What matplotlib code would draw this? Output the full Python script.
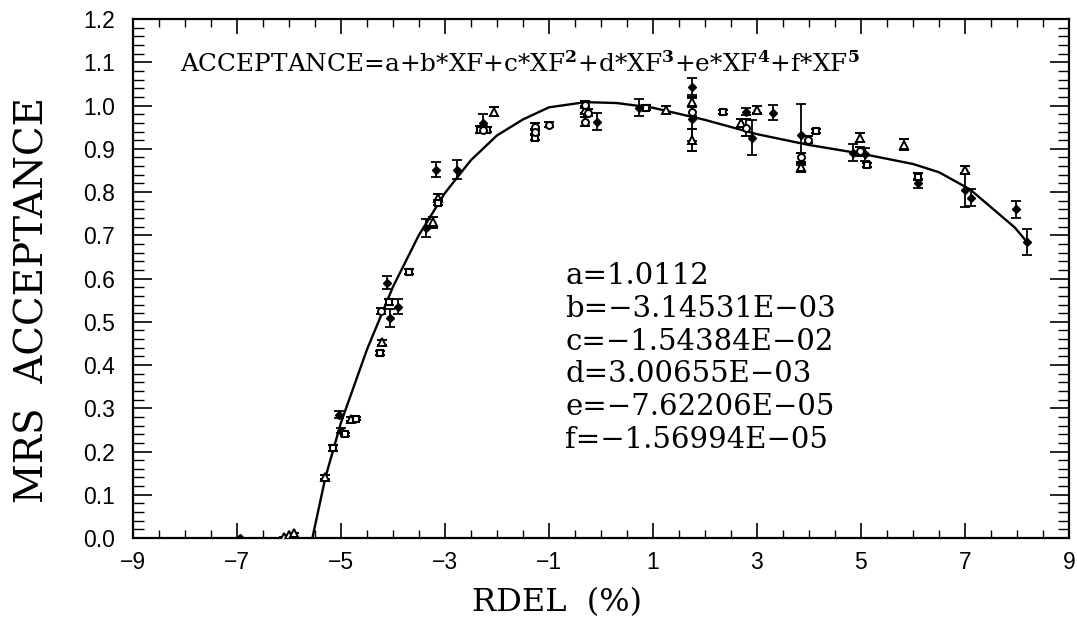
import matplotlib
matplotlib.use("Agg")
import matplotlib.pyplot as plt
from matplotlib.ticker import MultipleLocator, FixedLocator

plt.rcParams['mathtext.fontset'] = 'dejavuserif'

# ---- data ----
# filled diamonds (x, y, error)
dia_x = [-6.94, -5.04, -5.00, -4.12, -4.06, -3.90, -3.37, -3.17, -2.77, -2.27,
         -0.08, 0.73, 1.75, 1.75, 2.79, 2.90, 3.31, 3.85, 4.85, 5.08,
         6.10, 7.00, 7.12, 7.98, 8.19]
dia_y = [0.000, 0.285, 0.248, 0.590, 0.509, 0.535, 0.717, 0.852, 0.852, 0.960,
         0.963, 0.995, 1.044, 0.968, 0.986, 0.926, 0.984, 0.933, 0.891, 0.887,
         0.820, 0.805, 0.787, 0.760, 0.685]
dia_e = [0.000, 0.008, 0.006, 0.015, 0.020, 0.018, 0.020, 0.018, 0.022, 0.020,
         0.020, 0.020, 0.020, 0.050, 0.008, 0.040, 0.018, 0.070, 0.020, 0.015,
         0.010, 0.040, 0.020, 0.020, 0.030]

# open triangles
tri_x = [-6.10, -6.00, -5.90, -5.31, -4.80, -4.21, -3.23, -3.13, -2.06, -0.31,
         1.25, 1.75, 1.75, 2.70, 3.00, 3.85, 4.98, 5.83, 7.00]
tri_y = [0.003, 0.008, 0.012, 0.141, 0.275, 0.453, 0.730, 0.787, 0.986, 0.990,
         0.990, 1.009, 0.921, 0.960, 0.990, 0.857, 0.926, 0.910, 0.852]
tri_e = [0.000, 0.000, 0.000, 0.004, 0.005, 0.006, 0.012, 0.008, 0.010, 0.008,
         0.010, 0.010, 0.025, 0.010, 0.008, 0.010, 0.010, 0.012, 0.008]

# open squares
sq_x = [-5.15, -4.92, -4.72, -4.25, -4.08, -3.69, -3.13, -2.33, -2.19, -1.27,
        0.87, 2.35, 4.13, 5.12, 6.10]
sq_y = [0.208, 0.240, 0.276, 0.428, 0.546, 0.616, 0.775, 0.944, 0.944, 0.926,
        0.995, 0.986, 0.942, 0.863, 0.836]
sq_e = [0.006, 0.004, 0.004, 0.005, 0.006, 0.005, 0.006, 0.008, 0.006, 0.006,
        0.006, 0.005, 0.005, 0.004, 0.008]

# open circles
ci_x = [-4.23, -1.27, -1.27, -1.00, -0.30, -0.31, -0.25, -2.27, 1.75, 2.79,
        3.85, 3.98, 4.98]
ci_y = [0.525, 0.951, 0.940, 0.956, 1.002, 0.963, 0.984, 0.944, 0.986, 0.949,
        0.880, 0.921, 0.894]
ci_e = [0.006, 0.008, 0.006, 0.006, 0.008, 0.010, 0.008, 0.008, 0.010, 0.020,
        0.010, 0.008, 0.010]

# fitted curve (polyline as drawn)
fit_x = [-5.55, -5.3, -5.0, -4.5, -4.0, -3.5, -3.0, -2.5, -2.0, -1.5, -1.0,
         -0.3, 0.3, 1.0, 2.0, 3.0, 4.0, 5.0, 6.0, 6.5, 7.1, 7.96, 8.19]
fit_y = [0.000, 0.140, 0.267, 0.436, 0.581, 0.701, 0.798, 0.874, 0.931, 0.968,
         0.996, 1.008, 1.006, 0.995, 0.967, 0.934, 0.909, 0.889, 0.865, 0.846,
         0.806, 0.718, 0.685]

xticks = [-9, -7, -5, -3, -1, 1, 3, 5, 7, 9]
yticks = [0.0, 0.1, 0.2, 0.3, 0.4, 0.5, 0.6, 0.7, 0.8, 0.9, 1.0, 1.1, 1.2]

formula = (r"ACCEPTANCE=a+b*XF+c*XF$^{\mathbf{2}}$+d*XF$^{\mathbf{3}}$"
           r"+e*XF$^{\mathbf{4}}$+f*XF$^{\mathbf{5}}$")
coeff_lines = ["a=1.0112", "b=\u22123.14531E\u221203", "c=\u22121.54384E\u221202",
               "d=3.00655E\u221203", "e=\u22127.62206E\u221205", "f=\u22121.56994E\u221205"]

# ---- figure ----
fig = plt.figure(figsize=(10.77, 6.17), dpi=100)
ax = fig.add_axes([0.1235, 0.128, 0.869, 0.841])

ax.plot(fit_x, fit_y, color='black', lw=1.7, zorder=3)

ebkw = dict(ecolor='black', elinewidth=1.3, capsize=3.8, capthick=1.3, linestyle='none', zorder=4)
ax.errorbar(dia_x, dia_y, yerr=dia_e, fmt='D', ms=4.5, mfc='black', mec='black', **ebkw)
ax.errorbar(tri_x, tri_y, yerr=tri_e, fmt='^', ms=5.5, mfc='white', mec='black', mew=1.4, **ebkw)
ax.errorbar(sq_x, sq_y, yerr=sq_e, fmt='s', ms=5, mfc='white', mec='black', mew=1.5, **ebkw)
ax.errorbar(ci_x, ci_y, yerr=ci_e, fmt='o', ms=5, mfc='white', mec='black', mew=1.4, **ebkw)

ax.set_xlim(-9, 9)
ax.set_ylim(0, 1.2)
ax.xaxis.set_major_locator(FixedLocator(xticks))
ax.xaxis.set_minor_locator(MultipleLocator(0.5))
ax.yaxis.set_major_locator(FixedLocator(yticks))
ax.yaxis.set_minor_locator(MultipleLocator(0.02))
ax.set_xticklabels([("\u2212%d" % -t) if t < 0 else "%d" % t for t in xticks],
                   family='Liberation Sans', fontsize=16.5)
ax.set_yticklabels(["%.1f" % t for t in yticks], family='Liberation Sans', fontsize=16.5)

ax.tick_params(which='both', direction='in', top=True, right=True, color='black')
ax.tick_params(axis='x', which='major', length=11, width=1.2, pad=9)
ax.tick_params(axis='x', which='minor', length=5.5, width=1.0)
ax.tick_params(axis='y', which='major', length=14, width=1.2, pad=13)
ax.tick_params(axis='y', which='minor', length=8, width=1.0)
for s in ax.spines.values():
    s.set_linewidth(1.6)

ax.text(-8.1, 1.096, formula, family='DejaVu Serif', fontsize=17.8,
        va='center', ha='left')

for i, line in enumerate(coeff_lines):
    ax.text(-0.69, 0.605 - i * 0.0755, line, family='DejaVu Serif', fontsize=21,
            va='center', ha='left')

fig.text(557 / 1077, 1 - 603 / 617, "RDEL  (%)", family='DejaVu Serif', fontsize=23,
         ha='center', va='center')
fig.text(33 / 1077, 1 - 300 / 617, "MRS  ACCEPTANCE", family='DejaVu Serif', fontsize=28,
         ha='center', va='center', rotation=90)

fig.savefig("out.png", dpi=100)
